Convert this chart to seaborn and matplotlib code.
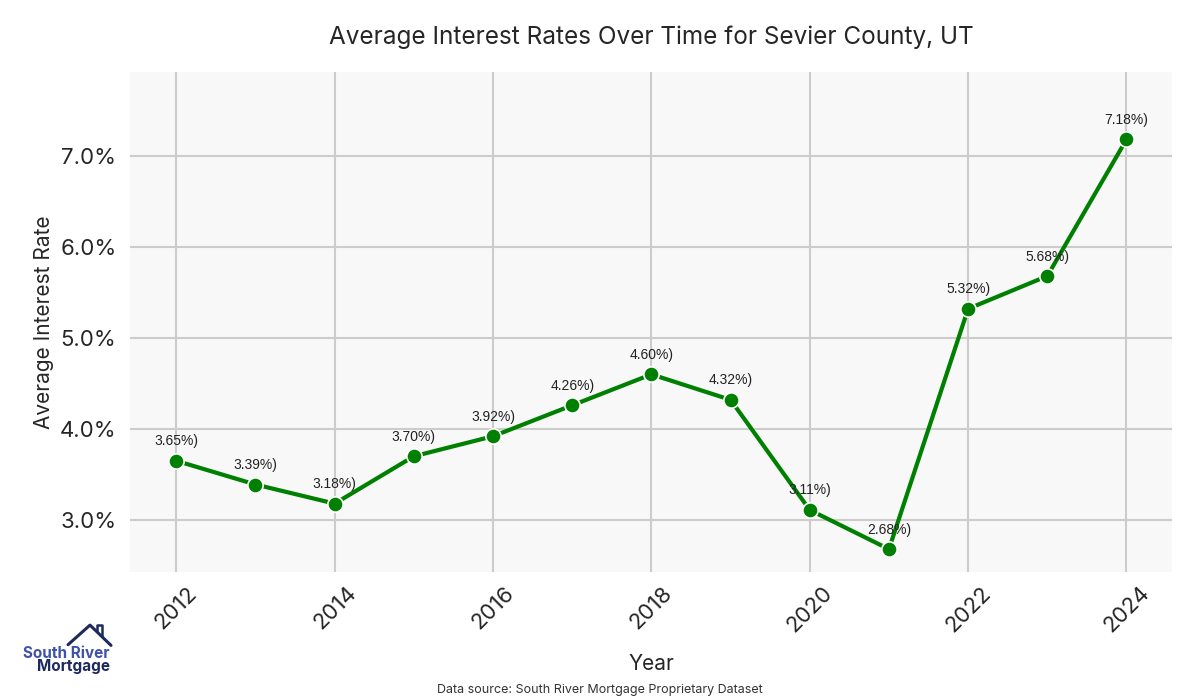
import matplotlib
matplotlib.use("Agg")
import matplotlib.pyplot as plt
import matplotlib.ticker as mticker
import seaborn as sns
import pandas as pd

years = [2012, 2013, 2014, 2015, 2016, 2017, 2018, 2019, 2020, 2021, 2022, 2023, 2024]
rates = [3.65, 3.39, 3.18, 3.70, 3.92, 4.26, 4.60, 4.32, 3.11, 2.68, 5.32, 5.68, 7.18]

df = pd.DataFrame({"Year": years, "Rate": rates})

sns.set_theme(style="whitegrid")
plt.rcParams["font.family"] = ["Inter", "DejaVu Sans"]

fig, ax = plt.subplots(figsize=(12, 7), dpi=100)
fig.subplots_adjust(left=0.108, right=0.977, top=0.897, bottom=0.183)
ax.set_facecolor("#f8f8f8")

sns.lineplot(data=df, x="Year", y="Rate", ax=ax, color="green", linewidth=3,
             marker="o", markersize=11, markeredgecolor="white", markeredgewidth=1.2)

for x, y in zip(years, rates):
    ax.annotate(f"{y:.2f}%)", (x, y), textcoords="offset points", xytext=(0, 9),
                ha="center", va="bottom", fontsize=10, color="#222222",
                family=["Liberation Sans", "DejaVu Sans"])

ax.set_xlim(2011.41, 2024.58)
ax.set_ylim(2.43, 7.92)
ax.yaxis.set_major_locator(mticker.MultipleLocator(1.0))
ax.yaxis.set_major_formatter(mticker.FuncFormatter(lambda v, p: f"{v:.1f}%"))
ax.xaxis.set_major_locator(mticker.MultipleLocator(2))
ax.grid(True, color="#cccccc", linewidth=1.5)
for s in ax.spines.values():
    s.set_visible(False)

ax.tick_params(axis="x", labelsize=16, rotation=45, pad=2)
ax.tick_params(axis="y", labelsize=16)
ax.set_xlabel("Year", fontsize=15, labelpad=13)
ax.set_ylabel("Average Interest Rate", fontsize=15)
ax.set_title("Average Interest Rates Over Time for Sevier County, UT", fontsize=17.5, pad=20)

fig.text(0.5, 0.006, "Data source: South River Mortgage Proprietary Dataset",
         ha="center", va="bottom", fontsize=9, color="#333333")

# logo
fig.text(0.019, 0.06, "South River", fontsize=11, fontweight="bold", color="#3f51a8",
         ha="left", va="baseline")
fig.text(0.031, 0.0414, "Mortgage", fontsize=11, fontweight="bold", color="#1f2a5c",
         ha="left", va="baseline")
fig.lines.append(plt.Line2D([0.0567, 0.075, 0.0925], [0.079, 0.107, 0.078],
                            transform=fig.transFigure, color="#1f2a5c", linewidth=2.2))
fig.lines.append(plt.Line2D([0.0808, 0.0808, 0.085, 0.085], [0.098, 0.107, 0.107, 0.092],
                            transform=fig.transFigure, color="#1f2a5c", linewidth=1.8))

fig.savefig("out.png")
